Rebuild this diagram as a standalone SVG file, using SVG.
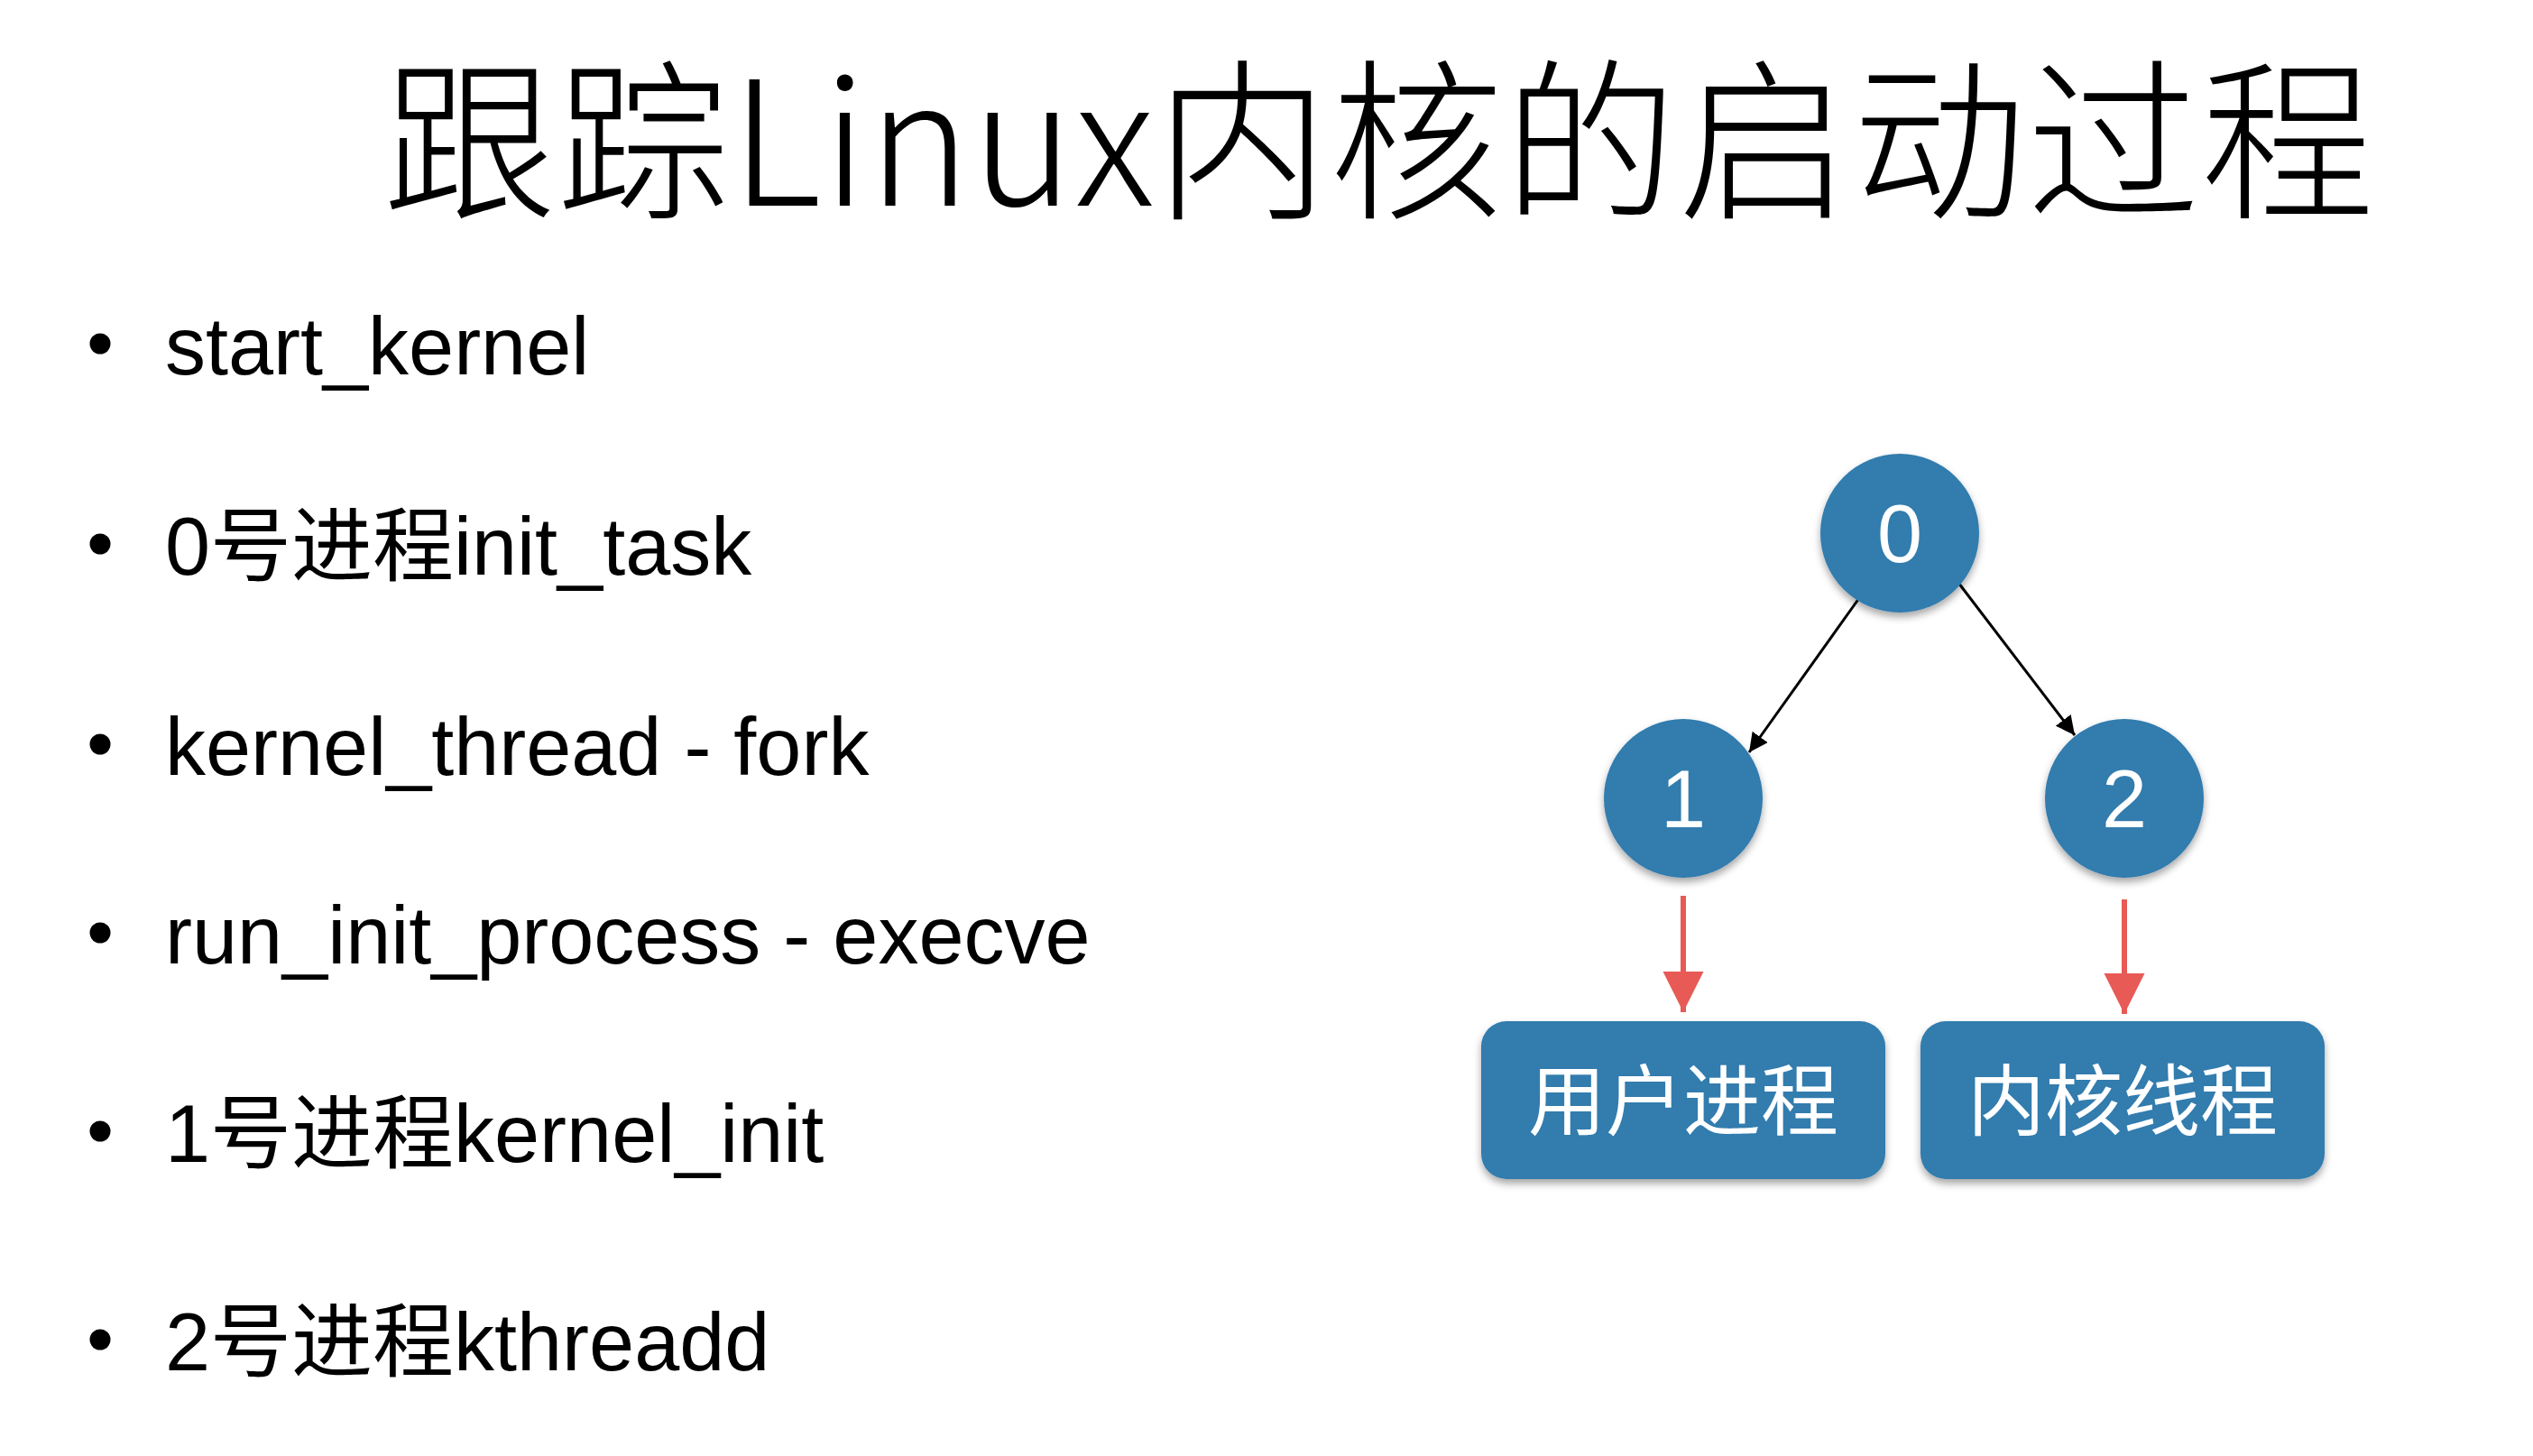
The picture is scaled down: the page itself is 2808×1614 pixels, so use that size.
<svg xmlns="http://www.w3.org/2000/svg" width="2808" height="1614" viewBox="0 0 2808 1614">
<defs>
<style>
.t{font-family:"Liberation Sans","Noto Sans CJK SC",sans-serif;fill:#000;}
.b{font-size:90px;}
.title{font-family:"Noto Sans CJK SC","Liberation Sans",sans-serif;font-size:192px;font-weight:300;fill:#000;}
.w{font-family:"Liberation Sans","Noto Sans CJK SC",sans-serif;fill:#fff;text-anchor:middle;}
.node{fill:#317bae;filter:url(#sh);}
.blk{stroke:#000;stroke-width:3;fill:none;marker-end:url(#ab);}
.red{stroke:#e85a55;stroke-width:6;fill:none;marker-end:url(#ar);}
</style>
<filter id="sh" x="-20%" y="-20%" width="140%" height="150%">
<feDropShadow dx="0" dy="5" stdDeviation="4" flood-color="#000" flood-opacity="0.35"/>
</filter>
<marker id="ab" viewBox="0 0 10 10" refX="10" refY="5" markerWidth="7" markerHeight="7" markerUnits="strokeWidth" orient="auto">
<path d="M0,0 L10,5 L0,10 z" fill="#000"/>
</marker>
<marker id="ar" viewBox="0 0 10 10" refX="10" refY="5" markerWidth="7.5" markerHeight="8" markerUnits="strokeWidth" orient="auto">
<path d="M0,0 L10,5 L0,10 z" fill="#e85a55"/>
</marker>
</defs>
<rect width="2808" height="1614" fill="#fff"/>
<text class="title" x="424" y="228" textLength="2208" lengthAdjust="spacing">跟踪Linux内核的启动过程</text>
<g id="bullets">
<circle cx="111" cy="381" r="11.5"/><text class="t b" x="183" y="415">start_kernel</text>
<circle cx="111" cy="603" r="11.5"/><text class="t b" x="183" y="637">0号进程init_task</text>
<circle cx="111" cy="825" r="11.5"/><text class="t b" x="183" y="859">kernel_thread - fork</text>
<circle cx="111" cy="1034" r="11.5"/><text class="t b" x="183" y="1068">run_init_process - execve</text>
<circle cx="111" cy="1254" r="11.5"/><text class="t b" x="183" y="1288">1号进程kernel_init</text>
<circle cx="111" cy="1485" r="11.5"/><text class="t b" x="183" y="1519">2号进程kthreadd</text>
</g>
<g id="connectors">
<line class="blk" x1="2061" y1="663" x2="1939" y2="834"/>
<line class="blk" x1="2168" y1="642" x2="2300" y2="815"/>
<line class="red" x1="1866" y1="993" x2="1866" y2="1122"/>
<line class="red" x1="2355" y1="997" x2="2355" y2="1124"/>
</g>
<g id="node0"><circle class="node" cx="2106" cy="591" r="88"/><text class="w" x="2106" y="623" font-size="90">0</text></g>
<g id="node1"><circle class="node" cx="1866" cy="885" r="88"/><text class="w" x="1866" y="917" font-size="90">1</text></g>
<g id="node2"><circle class="node" cx="2355" cy="885" r="88"/><text class="w" x="2355" y="917" font-size="90">2</text></g>
<g id="user"><rect class="node" x="1642" y="1132" width="448" height="175" rx="28"/><text class="w" x="1866" y="1252" font-size="86">用户进程</text></g>
<g id="kthread"><rect class="node" x="2129" y="1132" width="448" height="175" rx="28"/><text class="w" x="2353" y="1252" font-size="86">内核线程</text></g>
</svg>
